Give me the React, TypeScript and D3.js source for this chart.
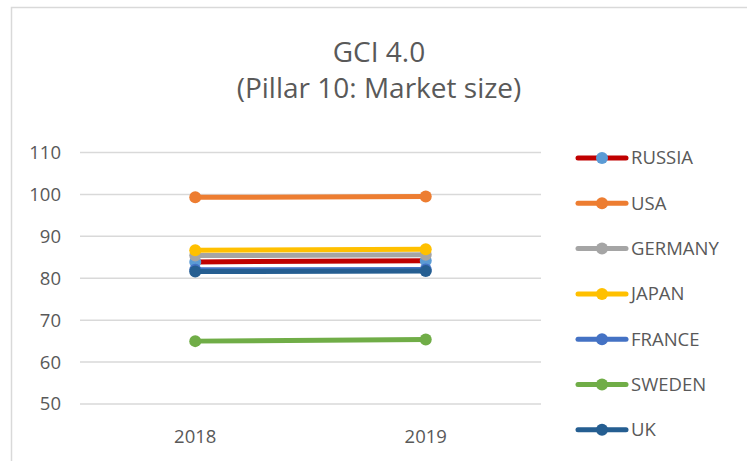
import React, { useEffect, useRef } from "react";
import * as d3 from "d3";

// data
const years = ["2018", "2019"];
const countries = ["RUSSIA", "USA", "GERMANY", "JAPAN", "FRANCE", "SWEDEN", "UK"];
const russia = [83.9, 84.2];
const usa = [99.3, 99.5];
const germany = [85.4, 85.6];
const japan = [86.7, 86.9];
const france = [82.0, 82.1];
const sweden = [65.0, 65.4];
const uk = [81.6, 81.7];
const yTicks = [50, 60, 70, 80, 90, 100, 110];

const lineColors = ["#C00000", "#ED7D31", "#A5A5A5", "#FFC000", "#4472C4", "#70AD47", "#255E91"];
const markerColors = ["#5B9BD5", "#ED7D31", "#A5A5A5", "#FFC000", "#4472C4", "#70AD47", "#255E91"];

export default function App() {
  const svgRef = useRef<SVGSVGElement>(null);

  useEffect(() => {
    const svg = d3.select(svgRef.current);
    svg.selectAll("*").remove();

    const width = 747;
    const height = 461;
    const font = "Open Sans, Noto Sans, sans-serif";
    const textColor = "#595959";
    const seriesValues = [russia, usa, germany, japan, france, sweden, uk];

    svg.attr("width", width).attr("height", height);

    //white background and chart border
    svg.append("rect").attr("width", width).attr("height", height).attr("fill", "#fff");
    svg.append("rect")
      .attr("x", 11.5).attr("y", 7.5)
      .attr("width", width + 20).attr("height", height + 20)
      .attr("fill", "none").attr("stroke", "#d9d9d9").attr("stroke-width", 1.5);

    //title
    svg.append("text")
      .attr("x", 379).attr("y", 62)
      .attr("text-anchor", "middle")
      .attr("font-family", font).attr("font-size", 28)
      .attr("fill", textColor)
      .text("GCI 4.0");
    svg.append("text")
      .attr("x", 379).attr("y", 98)
      .attr("text-anchor", "middle")
      .attr("font-family", font).attr("font-size", 28)
      .attr("fill", textColor)
      .text("(Pillar 10: Market size)");

    const x = d3.scaleBand().domain(years).range([80, 541]);
    const y = d3.scaleLinear().domain([50, 110]).range([404, 152.5]);

    //grid lines
    svg.append("g")
      .selectAll("line")
      .data(yTicks)
      .join("line")
      .attr("x1", 80).attr("x2", 541)
      .attr("y1", (d) => y(d)).attr("y2", (d) => y(d))
      .attr("stroke", "#d9d9d9").attr("stroke-width", 1.5);

    //y labels
    svg.append("g")
      .selectAll("text")
      .data(yTicks)
      .join("text")
      .attr("x", 61)
      .attr("y", (d) => y(d))
      .attr("dy", "0.35em")
      .attr("text-anchor", "end")
      .attr("font-family", font).attr("font-size", 18.5)
      .attr("fill", textColor)
      .text((d) => d);

    //x labels
    svg.append("g")
      .selectAll("text")
      .data(years)
      .join("text")
      .attr("x", (d) => x(d)! + x.bandwidth() / 2)
      .attr("y", 443)
      .attr("text-anchor", "middle")
      .attr("font-family", font).attr("font-size", 18.5)
      .attr("fill", textColor)
      .text((d) => d);

    const line = d3.line<number>()
      .x((_, i) => x(years[i])! + x.bandwidth() / 2)
      .y((d) => y(d));

    //series
    seriesValues.forEach((vals, k) => {
      const g = svg.append("g");
      g.append("path")
        .attr("d", line(vals))
        .attr("fill", "none")
        .attr("stroke", lineColors[k])
        .attr("stroke-width", 5);
      g.selectAll("circle")
        .data(vals)
        .join("circle")
        .attr("cx", (_, i) => x(years[i])! + x.bandwidth() / 2)
        .attr("cy", (d) => y(d))
        .attr("r", 6)
        .attr("fill", markerColors[k]);
    });

    //legend
    const legend = svg.append("g");
    countries.forEach((name, k) => {
      const ly = 158 + k * 45.3;
      legend.append("line")
        .attr("x1", 578).attr("x2", 626)
        .attr("y1", ly).attr("y2", ly)
        .attr("stroke", lineColors[k]).attr("stroke-width", 5)
        .attr("stroke-linecap", "round");
      legend.append("circle")
        .attr("cx", 602).attr("cy", ly).attr("r", 6)
        .attr("fill", markerColors[k]);
      legend.append("text")
        .attr("x", 631).attr("y", ly)
        .attr("dy", "0.35em")
        .attr("font-family", font).attr("font-size", 18.5)
        .attr("fill", textColor)
        .text(name);
    });
  }, []);

  return (
    <div style={{ position: "absolute", left: 0, top: 0 }}>
      <svg ref={svgRef} style={{ display: "block" }}></svg>
    </div>
  );
}
